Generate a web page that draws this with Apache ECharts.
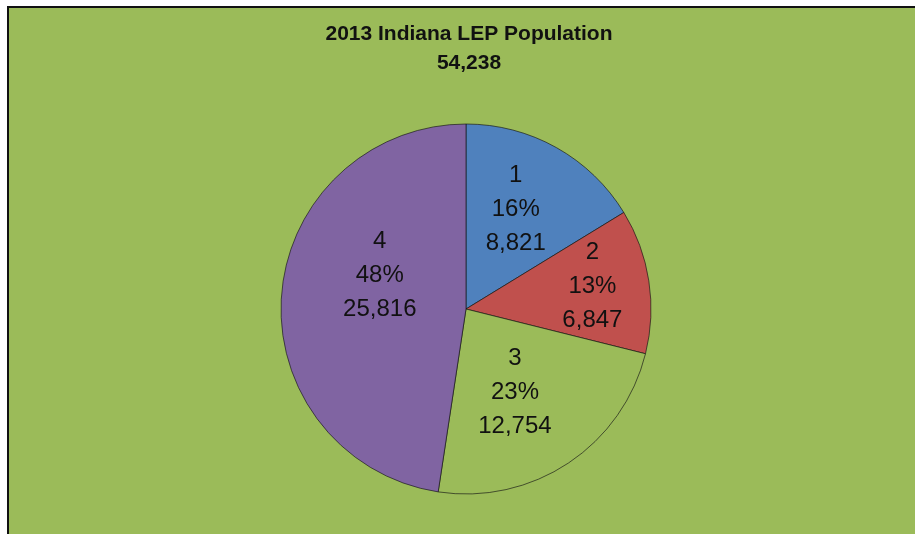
<!DOCTYPE html>
<html>
<head>
<meta charset="utf-8">
<script src="https://cdn.jsdelivr.net/npm/echarts@6/dist/echarts.min.js"></script>
<style>
  html, body { margin: 0; padding: 0; background: #fff; overflow: hidden; }
  #main { position: absolute; left: 7px; top: 6px; width: 915px; height: 534px;
          border-left: 2px solid #111; border-top: 2px solid #111; }
</style>
</head>
<body>
<div id="main"></div>
<script>
// chart data
var titleText = '2013 Indiana LEP Population'
var totalText = '54,238'
var categories = ['1', '2', '3', '4']
var values = [8821, 6847, 12754, 25816]
var colors = ['#4F81BD', '#C0504D', '#9BBB59', '#8064A2']
// nudges for the inside labels (Excel "best fit" placement)
var labelShift = [[3, -16], [32, -8], [-4, 4], [9, -26]]

var myChart = echarts.init(document.getElementById('main'))

var pieData = []
for (let i = 0; i < categories.length; i++) {
  pieData.push({
    name: categories[i],
    value: values[i],
    itemStyle: { color: colors[i] }
  })
}

myChart.setOption({
  backgroundColor: '#9BBB59',
  animation: false,
  title: {
    text: titleText + '\n' + totalText,
    left: 455,
    top: 7,
    textAlign: 'center',
    textStyle: {
      fontFamily: 'Liberation Sans',
      fontWeight: 'bold',
      fontSize: 21,
      lineHeight: 29,
      color: '#111'
    }
  },
  series: [
    {
      type: 'pie',
      center: [457, 301],
      radius: 185,
      startAngle: 90,
      clockwise: true,
      percentPrecision: 0,
      data: pieData,
      itemStyle: {
        borderColor: 'rgba(20,20,20,0.65)',
        borderWidth: 1
      },
      label: {
        show: true,
        position: 'inside',
        fontFamily: 'Liberation Sans',
        fontSize: 24,
        lineHeight: 34,
        color: '#111',
        formatter: function (p) {
          return p.name + '\n' + p.percent + '%\n' + p.value.toLocaleString('en-US')
        }
      },
      labelLayout: function (params) {
        var s = labelShift[params.dataIndex]
        return { dx: s[0], dy: s[1] }
      },
      emphasis: { disabled: true }
    }
  ]
})
</script>
</body>
</html>
